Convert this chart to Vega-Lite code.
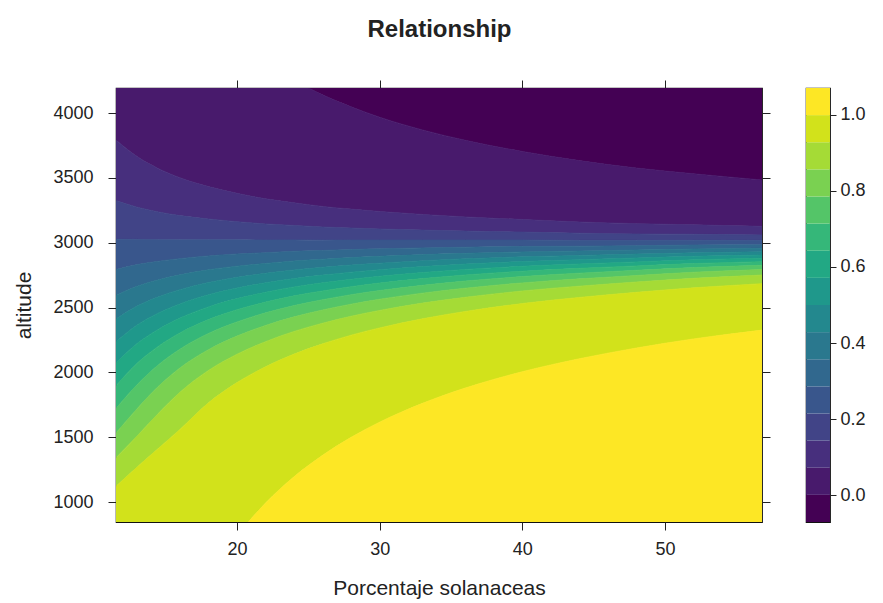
{
"$schema": "https://vega.github.io/schema/vega-lite/v6.json",
"background": "white",
"padding": {"left": 13, "top": 17, "right": 5, "bottom": 5},
"bounds": "flush",
"spacing": 44,
"title": {"text": "Relationship", "fontSize": 24, "fontWeight": "bold", "font": "Liberation Sans", "color": "#222", "anchor": "middle", "offset": 37},
"config": {
  "font": "Liberation Sans",
  "view": {"stroke": "#111", "strokeWidth": 1.2},
  "axis": {"domain": false, "grid": false, "tickColor": "#222", "labelColor": "#222", "titleColor": "#222", "labelFontSize": 18, "titleFontSize": 21, "titleFontWeight": "normal", "tickSize": 8, "labelFont": "Liberation Sans", "titleFont": "Liberation Sans"}
},
"datasets": {
"bar": [
{"b":0,"lo":-0.07,"hi":0.00125},{"b":1,"lo":0.00125,"hi":0.0725},{"b":2,"lo":0.0725,"hi":0.14375},{"b":3,"lo":0.14375,"hi":0.215},{"b":4,"lo":0.215,"hi":0.28625},{"b":5,"lo":0.28625,"hi":0.3575},{"b":6,"lo":0.3575,"hi":0.42875},{"b":7,"lo":0.42875,"hi":0.5},{"b":8,"lo":0.5,"hi":0.57125},{"b":9,"lo":0.57125,"hi":0.6425},{"b":10,"lo":0.6425,"hi":0.71375},{"b":11,"lo":0.71375,"hi":0.785},{"b":12,"lo":0.785,"hi":0.85625},{"b":13,"lo":0.85625,"hi":0.9275},{"b":14,"lo":0.9275,"hi":0.99875},{"b":15,"lo":0.99875,"hi":1.07}
],
"bands": [
{"x":11.5,"b":0,"lo":6323,"hi":6400},{"x":11.5,"b":1,"lo":3794,"hi":6323},{"x":11.5,"b":2,"lo":3326,"hi":3794},{"x":11.5,"b":3,"lo":3026,"hi":3326},{"x":11.5,"b":4,"lo":2793,"hi":3026},{"x":11.5,"b":5,"lo":2593,"hi":2793},{"x":11.5,"b":6,"lo":2410,"hi":2593},{"x":11.5,"b":7,"lo":2234,"hi":2410},{"x":11.5,"b":8,"lo":2070,"hi":2234},{"x":11.5,"b":9,"lo":1895,"hi":2070},{"x":11.5,"b":10,"lo":1720,"hi":1895},{"x":11.5,"b":11,"lo":1530,"hi":1720},{"x":11.5,"b":12,"lo":1340,"hi":1530},{"x":11.5,"b":13,"lo":1120,"hi":1340},{"x":11.5,"b":14,"lo":-1855,"hi":1120},{"x":11.5,"b":15,"lo":-2000,"hi":-1855},
{"x":13,"b":0,"lo":5770,"hi":6400},{"x":13,"b":1,"lo":3664,"hi":5770},{"x":13,"b":2,"lo":3274,"hi":3664},{"x":13,"b":3,"lo":3025,"hi":3274},{"x":13,"b":4,"lo":2831,"hi":3025},{"x":13,"b":5,"lo":2664,"hi":2831},{"x":13,"b":6,"lo":2511,"hi":2664},{"x":13,"b":7,"lo":2365,"hi":2511},{"x":13,"b":8,"lo":2222,"hi":2365},{"x":13,"b":9,"lo":2070,"hi":2222},{"x":13,"b":10,"lo":1905,"hi":2070},{"x":13,"b":11,"lo":1720,"hi":1905},{"x":13,"b":12,"lo":1510,"hi":1720},{"x":13,"b":13,"lo":1270,"hi":1510},{"x":13,"b":14,"lo":-1040,"hi":1270},{"x":13,"b":15,"lo":-2000,"hi":-1040},
{"x":14.5,"b":0,"lo":5375,"hi":6400},{"x":14.5,"b":1,"lo":3571,"hi":5375},{"x":14.5,"b":2,"lo":3237,"hi":3571},{"x":14.5,"b":3,"lo":3023,"hi":3237},{"x":14.5,"b":4,"lo":2857,"hi":3023},{"x":14.5,"b":5,"lo":2714,"hi":2857},{"x":14.5,"b":6,"lo":2583,"hi":2714},{"x":14.5,"b":7,"lo":2458,"hi":2583},{"x":14.5,"b":8,"lo":2333,"hi":2458},{"x":14.5,"b":9,"lo":2202,"hi":2333},{"x":14.5,"b":10,"lo":2059,"hi":2202},{"x":14.5,"b":11,"lo":1893,"hi":2059},{"x":14.5,"b":12,"lo":1685,"hi":1893},{"x":14.5,"b":13,"lo":1415,"hi":1685},{"x":14.5,"b":14,"lo":-459,"hi":1415},{"x":14.5,"b":15,"lo":-2000,"hi":-459},
{"x":16,"b":0,"lo":5080,"hi":6400},{"x":16,"b":1,"lo":3501,"hi":5080},{"x":16,"b":2,"lo":3209,"hi":3501},{"x":16,"b":3,"lo":3022,"hi":3209},{"x":16,"b":4,"lo":2877,"hi":3022},{"x":16,"b":5,"lo":2752,"hi":2877},{"x":16,"b":6,"lo":2638,"hi":2752},{"x":16,"b":7,"lo":2528,"hi":2638},{"x":16,"b":8,"lo":2419,"hi":2528},{"x":16,"b":9,"lo":2304,"hi":2419},{"x":16,"b":10,"lo":2179,"hi":2304},{"x":16,"b":11,"lo":2034,"hi":2179},{"x":16,"b":12,"lo":1847,"hi":2034},{"x":16,"b":13,"lo":1560,"hi":1847},{"x":16,"b":14,"lo":-24,"hi":1560},{"x":16,"b":15,"lo":-2000,"hi":-24},
{"x":18,"b":0,"lo":4786,"hi":6400},{"x":18,"b":1,"lo":3433,"hi":4786},{"x":18,"b":2,"lo":3183,"hi":3433},{"x":18,"b":3,"lo":3023,"hi":3183},{"x":18,"b":4,"lo":2898,"hi":3023},{"x":18,"b":5,"lo":2791,"hi":2898},{"x":18,"b":6,"lo":2693,"hi":2791},{"x":18,"b":7,"lo":2599,"hi":2693},{"x":18,"b":8,"lo":2505,"hi":2599},{"x":18,"b":9,"lo":2407,"hi":2505},{"x":18,"b":10,"lo":2300,"hi":2407},{"x":18,"b":11,"lo":2175,"hi":2300},{"x":18,"b":12,"lo":2015,"hi":2175},{"x":18,"b":13,"lo":1765,"hi":2015},{"x":18,"b":14,"lo":412,"hi":1765},{"x":18,"b":15,"lo":-2000,"hi":412},
{"x":20,"b":0,"lo":4564,"hi":6400},{"x":20,"b":1,"lo":3381,"hi":4564},{"x":20,"b":2,"lo":3162,"hi":3381},{"x":20,"b":3,"lo":3022,"hi":3162},{"x":20,"b":4,"lo":2913,"hi":3022},{"x":20,"b":5,"lo":2819,"hi":2913},{"x":20,"b":6,"lo":2733,"hi":2819},{"x":20,"b":7,"lo":2651,"hi":2733},{"x":20,"b":8,"lo":2569,"hi":2651},{"x":20,"b":9,"lo":2483,"hi":2569},{"x":20,"b":10,"lo":2389,"hi":2483},{"x":20,"b":11,"lo":2280,"hi":2389},{"x":20,"b":12,"lo":2140,"hi":2280},{"x":20,"b":13,"lo":1921,"hi":2140},{"x":20,"b":14,"lo":738,"hi":1921},{"x":20,"b":15,"lo":-2000,"hi":738},
{"x":22,"b":0,"lo":4391,"hi":6400},{"x":22,"b":1,"lo":3339,"hi":4391},{"x":22,"b":2,"lo":3145,"hi":3339},{"x":22,"b":3,"lo":3020,"hi":3145},{"x":22,"b":4,"lo":2923,"hi":3020},{"x":22,"b":5,"lo":2840,"hi":2923},{"x":22,"b":6,"lo":2764,"hi":2840},{"x":22,"b":7,"lo":2691,"hi":2764},{"x":22,"b":8,"lo":2618,"hi":2691},{"x":22,"b":9,"lo":2542,"hi":2618},{"x":22,"b":10,"lo":2459,"hi":2542},{"x":22,"b":11,"lo":2362,"hi":2459},{"x":22,"b":12,"lo":2237,"hi":2362},{"x":22,"b":13,"lo":2043,"hi":2237},{"x":22,"b":14,"lo":992,"hi":2043},{"x":22,"b":15,"lo":-2000,"hi":992},
{"x":24,"b":0,"lo":4254,"hi":6400},{"x":24,"b":1,"lo":3308,"hi":4254},{"x":24,"b":2,"lo":3133,"hi":3308},{"x":24,"b":3,"lo":3021,"hi":3133},{"x":24,"b":4,"lo":2934,"hi":3021},{"x":24,"b":5,"lo":2859,"hi":2934},{"x":24,"b":6,"lo":2790,"hi":2859},{"x":24,"b":7,"lo":2724,"hi":2790},{"x":24,"b":8,"lo":2659,"hi":2724},{"x":24,"b":9,"lo":2590,"hi":2659},{"x":24,"b":10,"lo":2515,"hi":2590},{"x":24,"b":11,"lo":2428,"hi":2515},{"x":24,"b":12,"lo":2316,"hi":2428},{"x":24,"b":13,"lo":2141,"hi":2316},{"x":24,"b":14,"lo":1195,"hi":2141},{"x":24,"b":15,"lo":-2000,"hi":1195},
{"x":26,"b":0,"lo":4140,"hi":6400},{"x":26,"b":1,"lo":3280,"hi":4140},{"x":26,"b":2,"lo":3121,"hi":3280},{"x":26,"b":3,"lo":3019,"hi":3121},{"x":26,"b":4,"lo":2940,"hi":3019},{"x":26,"b":5,"lo":2872,"hi":2940},{"x":26,"b":6,"lo":2810,"hi":2872},{"x":26,"b":7,"lo":2750,"hi":2810},{"x":26,"b":8,"lo":2691,"hi":2750},{"x":26,"b":9,"lo":2628,"hi":2691},{"x":26,"b":10,"lo":2560,"hi":2628},{"x":26,"b":11,"lo":2481,"hi":2560},{"x":26,"b":12,"lo":2379,"hi":2481},{"x":26,"b":13,"lo":2220,"hi":2379},{"x":26,"b":14,"lo":1360,"hi":2220},{"x":26,"b":15,"lo":-2000,"hi":1360},
{"x":28,"b":0,"lo":4048,"hi":6400},{"x":28,"b":1,"lo":3259,"hi":4048},{"x":28,"b":2,"lo":3113,"hi":3259},{"x":28,"b":3,"lo":3020,"hi":3113},{"x":28,"b":4,"lo":2947,"hi":3020},{"x":28,"b":5,"lo":2885,"hi":2947},{"x":28,"b":6,"lo":2828,"hi":2885},{"x":28,"b":7,"lo":2773,"hi":2828},{"x":28,"b":8,"lo":2718,"hi":2773},{"x":28,"b":9,"lo":2661,"hi":2718},{"x":28,"b":10,"lo":2599,"hi":2661},{"x":28,"b":11,"lo":2526,"hi":2599},{"x":28,"b":12,"lo":2433,"hi":2526},{"x":28,"b":13,"lo":2287,"hi":2433},{"x":28,"b":14,"lo":1499,"hi":2287},{"x":28,"b":15,"lo":-2000,"hi":1499},
{"x":30,"b":0,"lo":3968,"hi":6400},{"x":30,"b":1,"lo":3241,"hi":3968},{"x":30,"b":2,"lo":3106,"hi":3241},{"x":30,"b":3,"lo":3020,"hi":3106},{"x":30,"b":4,"lo":2953,"hi":3020},{"x":30,"b":5,"lo":2895,"hi":2953},{"x":30,"b":6,"lo":2842,"hi":2895},{"x":30,"b":7,"lo":2792,"hi":2842},{"x":30,"b":8,"lo":2741,"hi":2792},{"x":30,"b":9,"lo":2689,"hi":2741},{"x":30,"b":10,"lo":2631,"hi":2689},{"x":30,"b":11,"lo":2564,"hi":2631},{"x":30,"b":12,"lo":2478,"hi":2564},{"x":30,"b":13,"lo":2343,"hi":2478},{"x":30,"b":14,"lo":1616,"hi":2343},{"x":30,"b":15,"lo":-2000,"hi":1616},
{"x":33,"b":0,"lo":3870,"hi":6400},{"x":33,"b":1,"lo":3218,"hi":3870},{"x":33,"b":2,"lo":3097,"hi":3218},{"x":33,"b":3,"lo":3020,"hi":3097},{"x":33,"b":4,"lo":2960,"hi":3020},{"x":33,"b":5,"lo":2908,"hi":2960},{"x":33,"b":6,"lo":2861,"hi":2908},{"x":33,"b":7,"lo":2816,"hi":2861},{"x":33,"b":8,"lo":2770,"hi":2816},{"x":33,"b":9,"lo":2723,"hi":2770},{"x":33,"b":10,"lo":2671,"hi":2723},{"x":33,"b":11,"lo":2611,"hi":2671},{"x":33,"b":12,"lo":2534,"hi":2611},{"x":33,"b":13,"lo":2413,"hi":2534},{"x":33,"b":14,"lo":1761,"hi":2413},{"x":33,"b":15,"lo":-2000,"hi":1761},
{"x":36,"b":0,"lo":3790,"hi":6400},{"x":36,"b":1,"lo":3199,"hi":3790},{"x":36,"b":2,"lo":3090,"hi":3199},{"x":36,"b":3,"lo":3020,"hi":3090},{"x":36,"b":4,"lo":2965,"hi":3020},{"x":36,"b":5,"lo":2918,"hi":2965},{"x":36,"b":6,"lo":2876,"hi":2918},{"x":36,"b":7,"lo":2835,"hi":2876},{"x":36,"b":8,"lo":2794,"hi":2835},{"x":36,"b":9,"lo":2751,"hi":2794},{"x":36,"b":10,"lo":2704,"hi":2751},{"x":36,"b":11,"lo":2649,"hi":2704},{"x":36,"b":12,"lo":2579,"hi":2649},{"x":36,"b":13,"lo":2470,"hi":2579},{"x":36,"b":14,"lo":1879,"hi":2470},{"x":36,"b":15,"lo":-2000,"hi":1879},
{"x":40,"b":0,"lo":3704,"hi":6400},{"x":40,"b":1,"lo":3179,"hi":3704},{"x":40,"b":2,"lo":3082,"hi":3179},{"x":40,"b":3,"lo":3020,"hi":3082},{"x":40,"b":4,"lo":2971,"hi":3020},{"x":40,"b":5,"lo":2929,"hi":2971},{"x":40,"b":6,"lo":2891,"hi":2929},{"x":40,"b":7,"lo":2855,"hi":2891},{"x":40,"b":8,"lo":2818,"hi":2855},{"x":40,"b":9,"lo":2780,"hi":2818},{"x":40,"b":10,"lo":2739,"hi":2780},{"x":40,"b":11,"lo":2690,"hi":2739},{"x":40,"b":12,"lo":2628,"hi":2690},{"x":40,"b":13,"lo":2531,"hi":2628},{"x":40,"b":14,"lo":2005,"hi":2531},{"x":40,"b":15,"lo":-2000,"hi":2005},
{"x":44,"b":0,"lo":3633,"hi":6400},{"x":44,"b":1,"lo":3160,"hi":3633},{"x":44,"b":2,"lo":3073,"hi":3160},{"x":44,"b":3,"lo":3017,"hi":3073},{"x":44,"b":4,"lo":2973,"hi":3017},{"x":44,"b":5,"lo":2936,"hi":2973},{"x":44,"b":6,"lo":2902,"hi":2936},{"x":44,"b":7,"lo":2869,"hi":2902},{"x":44,"b":8,"lo":2836,"hi":2869},{"x":44,"b":9,"lo":2802,"hi":2836},{"x":44,"b":10,"lo":2765,"hi":2802},{"x":44,"b":11,"lo":2721,"hi":2765},{"x":44,"b":12,"lo":2665,"hi":2721},{"x":44,"b":13,"lo":2578,"hi":2665},{"x":44,"b":14,"lo":2105,"hi":2578},{"x":44,"b":15,"lo":-2000,"hi":2105},
{"x":48,"b":0,"lo":3576,"hi":6400},{"x":48,"b":1,"lo":3147,"hi":3576},{"x":48,"b":2,"lo":3067,"hi":3147},{"x":48,"b":3,"lo":3017,"hi":3067},{"x":48,"b":4,"lo":2977,"hi":3017},{"x":48,"b":5,"lo":2943,"hi":2977},{"x":48,"b":6,"lo":2912,"hi":2943},{"x":48,"b":7,"lo":2882,"hi":2912},{"x":48,"b":8,"lo":2852,"hi":2882},{"x":48,"b":9,"lo":2821,"hi":2852},{"x":48,"b":10,"lo":2787,"hi":2821},{"x":48,"b":11,"lo":2747,"hi":2787},{"x":48,"b":12,"lo":2697,"hi":2747},{"x":48,"b":13,"lo":2617,"hi":2697},{"x":48,"b":14,"lo":2188,"hi":2617},{"x":48,"b":15,"lo":-2000,"hi":2188},
{"x":52,"b":0,"lo":3532,"hi":6400},{"x":52,"b":1,"lo":3138,"hi":3532},{"x":52,"b":2,"lo":3065,"hi":3138},{"x":52,"b":3,"lo":3018,"hi":3065},{"x":52,"b":4,"lo":2982,"hi":3018},{"x":52,"b":5,"lo":2951,"hi":2982},{"x":52,"b":6,"lo":2922,"hi":2951},{"x":52,"b":7,"lo":2895,"hi":2922},{"x":52,"b":8,"lo":2868,"hi":2895},{"x":52,"b":9,"lo":2839,"hi":2868},{"x":52,"b":10,"lo":2808,"hi":2839},{"x":52,"b":11,"lo":2772,"hi":2808},{"x":52,"b":12,"lo":2725,"hi":2772},{"x":52,"b":13,"lo":2652,"hi":2725},{"x":52,"b":14,"lo":2258,"hi":2652},{"x":52,"b":15,"lo":-2000,"hi":2258},
{"x":56.8,"b":0,"lo":3484,"hi":6400},{"x":56.8,"b":1,"lo":3126,"hi":3484},{"x":56.8,"b":2,"lo":3060,"hi":3126},{"x":56.8,"b":3,"lo":3017,"hi":3060},{"x":56.8,"b":4,"lo":2984,"hi":3017},{"x":56.8,"b":5,"lo":2956,"hi":2984},{"x":56.8,"b":6,"lo":2930,"hi":2956},{"x":56.8,"b":7,"lo":2905,"hi":2930},{"x":56.8,"b":8,"lo":2880,"hi":2905},{"x":56.8,"b":9,"lo":2854,"hi":2880},{"x":56.8,"b":10,"lo":2826,"hi":2854},{"x":56.8,"b":11,"lo":2793,"hi":2826},{"x":56.8,"b":12,"lo":2751,"hi":2793},{"x":56.8,"b":13,"lo":2684,"hi":2751},{"x":56.8,"b":14,"lo":2326,"hi":2684},{"x":56.8,"b":15,"lo":-2000,"hi":2326}
]
},
"hconcat": [
{
  "width": 646, "height": 434,
  "data": {"name": "bands"},
  "layer": [
    {
      "mark": {"type": "area", "interpolate": "monotone", "clip": true, "strokeWidth": 0.7},
      "encoding": {
        "x": {"field": "x", "type": "quantitative", "scale": {"domain": [11.52, 56.8], "nice": false, "zero": false}, "axis": {"orient": "bottom", "values": [20, 30, 40, 50], "format": "d", "title": "Porcentaje solanaceas", "labelPadding": 10, "titlePadding": 19}},
        "y": {"field": "lo", "type": "quantitative", "stack": null, "scale": {"domain": [846, 4193], "nice": false, "zero": false}, "axis": {"orient": "left", "values": [1000, 1500, 2000, 2500, 3000, 3500, 4000], "format": "d", "title": "altitude", "labelPadding": 15, "titlePadding": 18}},
        "y2": {"field": "hi"},
        "color": {"field": "b", "type": "ordinal", "scale": {"domain": [0,1,2,3,4,5,6,7,8,9,10,11,12,13,14,15], "range": ["#440154","#481A6C","#472F7D","#414487","#39568C","#31688E","#2A788E","#23888E","#1F988B","#22A884","#35B779","#54C568","#7AD151","#A5DB36","#D2E21B","#FDE725"]}, "legend": null},
        "stroke": {"field": "b", "type": "ordinal", "scale": {"domain": [0,1,2,3,4,5,6,7,8,9,10,11,12,13,14,15], "range": ["#440154","#481A6C","#472F7D","#414487","#39568C","#31688E","#2A788E","#23888E","#1F988B","#22A884","#35B779","#54C568","#7AD151","#A5DB36","#D2E21B","#FDE725"]}, "legend": null}
      }
    },
    {
      "mark": {"type": "point", "opacity": 0, "clip": true},
      "encoding": {
        "x": {"field": "x", "type": "quantitative", "scale": {"domain": [11.52, 56.8], "nice": false, "zero": false}, "axis": {"orient": "top", "values": [20, 30, 40, 50], "labels": false, "title": null}},
        "y": {"field": "lo", "type": "quantitative", "scale": {"domain": [846, 4193], "nice": false, "zero": false}, "axis": {"orient": "right", "values": [1000, 1500, 2000, 2500, 3000, 3500, 4000], "labels": false, "title": null}}
      }
    }
  ],
  "resolve": {"axis": {"x": "independent", "y": "independent"}}
},
{
  "width": 24, "height": 434,
  "data": {"name": "bar"},
  "mark": {"type": "rect"},
  "encoding": {
    "y": {"field": "lo", "type": "quantitative", "scale": {"domain": [-0.07, 1.07], "nice": false, "zero": false}, "axis": {"orient": "right", "values": [0, 0.2, 0.4, 0.6, 0.8, 1], "format": ".1f", "title": null, "tickSize": 6, "labelPadding": 4}},
    "y2": {"field": "hi"},
    "color": {"field": "b", "type": "ordinal", "scale": {"domain": [0,1,2,3,4,5,6,7,8,9,10,11,12,13,14,15], "range": ["#440154","#481A6C","#472F7D","#414487","#39568C","#31688E","#2A788E","#23888E","#1F988B","#22A884","#35B779","#54C568","#7AD151","#A5DB36","#D2E21B","#FDE725"]}, "legend": null}
  }
}
]
}
